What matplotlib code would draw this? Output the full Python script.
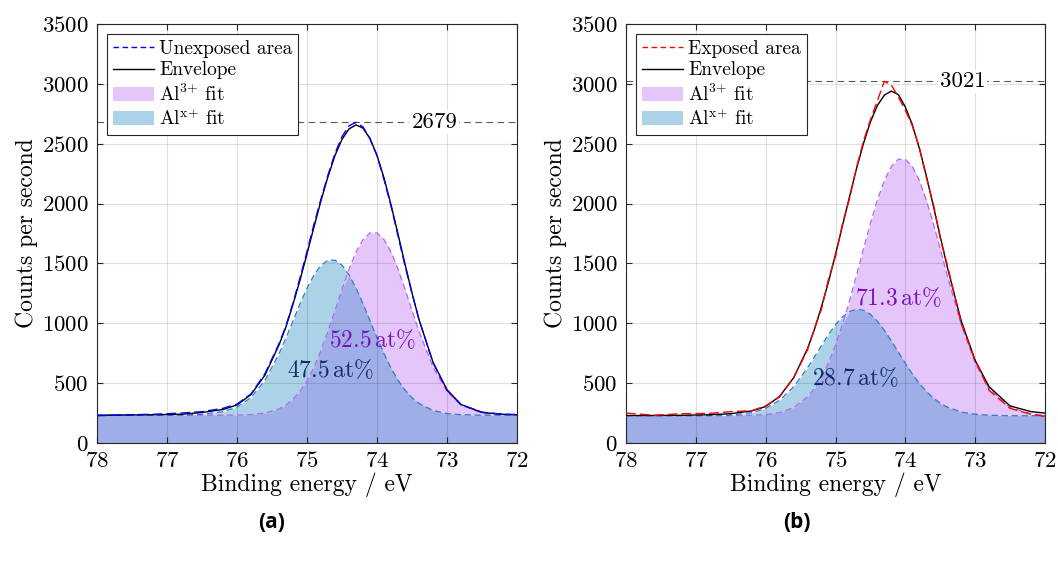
import matplotlib
matplotlib.use('Agg')
import matplotlib.pyplot as plt
from matplotlib.lines import Line2D
from matplotlib.patches import Patch
import numpy as np

# fonts a la LaTeX
plt.rcParams['font.family'] = 'serif'
plt.rcParams['font.serif'] = ['cmr10']
plt.rcParams['mathtext.fontset'] = 'cm'
plt.rcParams['axes.unicode_minus'] = False
plt.rcParams['axes.formatter.use_mathtext'] = True

# binding energy grid (eV)
energy = [78.0, 77.6, 77.2, 76.8, 76.5, 76.2, 76.0, 75.8, 75.6, 75.4, 75.3, 75.2,
          75.1, 75.0, 74.9, 74.8, 74.7, 74.6, 74.5, 74.4, 74.3, 74.2, 74.1, 74.0,
          73.9, 73.8, 73.7, 73.6, 73.5, 73.4, 73.2, 73.0, 72.8, 72.5, 72.2, 72.0]

# (a) unexposed area
meas_a = [228, 236, 240, 250, 262, 290, 325, 410, 580, 830, 980, 1170,
          1380, 1600, 1830, 2040, 2240, 2420, 2560, 2650, 2679, 2640, 2540, 2400,
          2200, 1980, 1730, 1480, 1250, 1030, 670, 440, 320, 258, 240, 238]
env_a = [232, 234, 236, 240, 255, 280, 318, 405, 568, 820, 972, 1160,
         1361, 1582, 1806, 2026, 2227, 2402, 2537, 2624, 2657, 2630, 2543, 2402,
         2213, 1989, 1744, 1494, 1253, 1030, 674, 445, 322, 255, 240, 236]
al3_a = [232, 232, 232, 232, 232, 232, 233, 237, 250, 285, 317, 365,
         431, 520, 634, 773, 932, 1107, 1284, 1452, 1595, 1700, 1755, 1755,
         1700, 1595, 1452, 1284, 1107, 932, 634, 431, 317, 250, 235, 232]
alx_a = [232, 232, 232, 233, 240, 262, 300, 380, 524, 745, 879, 1020,
         1162, 1294, 1404, 1485, 1527, 1527, 1485, 1404, 1294, 1162, 1020, 879,
         745, 626, 524, 442, 378, 330, 272, 246, 237, 232, 232, 232]

# (b) exposed area
meas_b = [250, 232, 245, 248, 262, 270, 310, 385, 545, 780, 960, 1120,
          1370, 1560, 1830, 2040, 2300, 2520, 2700, 2860, 3021, 2990, 2890, 2780,
          2650, 2470, 2220, 2000, 1710, 1490, 1000, 690, 440, 290, 240, 222]
env_b = [230, 230, 232, 236, 245, 268, 305, 390, 545, 790, 952, 1140,
         1347, 1576, 1816, 2056, 2290, 2501, 2682, 2820, 2906, 2940, 2910, 2807,
         2659, 2463, 2234, 1983, 1724, 1472, 1021, 690, 470, 310, 262, 250]
al3_b = [228, 228, 228, 228, 228, 231, 237, 254, 296, 385, 456, 550,
         669, 816, 990, 1186, 1400, 1620, 1835, 2031, 2193, 2310, 2370, 2370,
         2310, 2193, 2031, 1835, 1620, 1400, 990, 669, 456, 296, 244, 233]
alx_b = [228, 228, 228, 229, 233, 253, 289, 357, 470, 629, 721, 815,
         906, 988, 1054, 1098, 1118, 1109, 1075, 1017, 941, 852, 758, 665,
         577, 498, 431, 376, 332, 300, 259, 240, 232, 228, 228, 228]

peaks = [2679, 3021]
shares = [(52.5, 47.5), (71.3, 28.7)]
names = ['Unexposed area', 'Exposed area']
meas_colors = ['#0000ff', '#ff0000']
captions = ['(a)', '(b)']

col_al3 = '#e4c6fb'
col_alx = '#acd2e8'
col_both = '#a0aee8'
edge_al3 = '#b366f0'
edge_alx = '#2b7fc0'

fig = plt.figure(figsize=(10.58, 5.62), dpi=100)
axes = [fig.add_axes([0.0917, 0.2117, 0.397, 0.7456]),
        fig.add_axes([0.5917, 0.2117, 0.396, 0.7456])]

data = [(meas_a, env_a, al3_a, alx_a), (meas_b, env_b, al3_b, alx_b)]

# positions of the at% labels (energy, counts)
txt_al3 = [(74.07, 860), (74.10, 1211)]
txt_alx = [(74.66, 610), (74.72, 543)]

for i, ax in enumerate(axes):
    meas, env, al3, alx = [np.array(d) for d in data[i]]
    x = np.array(energy)

    # fills: only-blue, only-purple, overlap
    ax.fill_between(x, 0, alx, color=col_alx, lw=0, zorder=1)
    ax.fill_between(x, 0, al3, color=col_al3, lw=0, zorder=1)
    ax.fill_between(x, 0, np.minimum(al3, alx), color=col_both, lw=0, zorder=1)

    ax.plot(x, al3, ls=(0, (5, 3)), color=edge_al3, lw=0.9, zorder=3)
    ax.plot(x, alx, ls=(0, (5, 3)), color=edge_alx, lw=0.9, zorder=3)
    ax.plot(x, env, color='k', lw=1.0, zorder=4)
    ax.plot(x, meas, ls=(0, (7, 3)), color=meas_colors[i], lw=1.0, zorder=5)

    # peak marker
    ax.axhline(peaks[i], ls=(0, (6, 4)), color='0.35', lw=0.8, zorder=2)
    ax.text(73.18, peaks[i], str(peaks[i]), fontsize=16.5, ha='center', va='center',
            bbox=dict(facecolor='white', edgecolor='none', pad=1.5), zorder=6)

    ax.text(txt_al3[i][0], txt_al3[i][1], r'$\mathrm{%.1f\,at\%%}$' % shares[i][0],
            color='#7a10b8', fontsize=17, ha='center', va='center', zorder=6)
    ax.text(txt_alx[i][0], txt_alx[i][1], r'$\mathrm{%.1f\,at\%%}$' % shares[i][1],
            color='#0e2c6c', fontsize=17, ha='center', va='center', zorder=6)

    ax.set_xlim(78, 72)
    ax.set_ylim(0, 3500)
    ax.set_xticks([78, 77, 76, 75, 74, 73, 72])
    ax.set_yticks(np.arange(0, 3501, 500))
    ax.tick_params(direction='in', top=True, right=True, labelsize=16.5,
                   length=4, width=0.8, color='0.15')
    ax.tick_params(axis='x', pad=6)
    ax.tick_params(axis='y', pad=6)
    ax.grid(True, color='k', alpha=0.12, lw=0.8)
    for s in ax.spines.values():
        s.set_color('0.15')
        s.set_linewidth(0.8)
    ax.set_xlabel('Binding energy / eV', fontsize=17, labelpad=1)
    ax.set_ylabel('Counts per second', fontsize=17, labelpad=3)

    handles = [Line2D([], [], ls=(0, (4, 2.5)), color=meas_colors[i], lw=1.0),
               Line2D([], [], color='k', lw=1.0),
               Patch(facecolor=col_al3, edgecolor='none'),
               Patch(facecolor=col_alx, edgecolor='none')]
    labels = [names[i], 'Envelope', r'Al$^{3{+}}$ fit', r'Al$^{\mathrm{x}{+}}$ fit']
    leg = ax.legend(handles, labels, loc='upper left', fontsize=14, fancybox=False,
                    framealpha=1, edgecolor='0.15', borderaxespad=0.5,
                    handlelength=2.15, handletextpad=0.25, labelspacing=0.2,
                    borderpad=0.3)
    leg.get_frame().set_linewidth(0.8)
    leg.set_zorder(10)

    fig.text([0.257, 0.753][i], 0.07, captions[i], fontsize=15, fontweight='bold',
             family='Open Sans', ha='center', va='center')

fig.savefig('out.png', dpi=100)
